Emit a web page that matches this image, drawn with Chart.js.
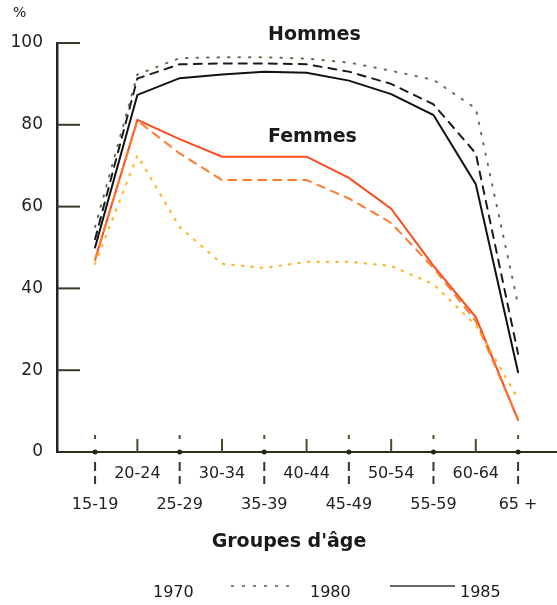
<!DOCTYPE html>
<html>
<head>
<meta charset="utf-8">
<script src="https://cdn.jsdelivr.net/npm/chart.js@4/dist/chart.umd.min.js"></script>
<style>
html,body{margin:0;padding:0;background:#fff;}
#wrap{width:557px;height:605px;position:relative;}
</style>
</head>
<body>
<div id="wrap"><canvas id="c" width="557" height="605"></canvas></div>
<script>
const categories = ['15-19','20-24','25-29','30-34','35-39','40-44','45-49','50-54','55-59','60-64','65 +'];
const hommes1970 = [55, 92.3, 96.3, 96.5, 96.5, 96.2, 95.2, 93.2, 91, 84, 36];
const hommes1980 = [52, 91.3, 94.8, 95, 95, 94.8, 93, 90, 85, 73, 24];
const hommes1985 = [50, 87.3, 91.4, 92.3, 93, 92.7, 90.8, 87.5, 82.4, 65.5, 19.5];
const femmes1970 = [46, 72.5, 55, 46, 45, 46.5, 46.5, 45.5, 41, 31, 13];
const femmes1980 = [47, 81, 73, 66.5, 66.5, 66.5, 62, 56, 45, 32, 8];
const femmes1985 = [47, 81.2, 76.5, 72.2, 72.2, 72.2, 67, 59.5, 45.5, 33, 7.8];
const yTicks = [0, 20, 40, 60, 80, 100];
const years = ['1970', '1980', '1985'];
const seriesNames = ['Hommes', 'Femmes'];
const axisTitle = "Groupes d'âge";

const FONT = "'DejaVu Sans', sans-serif";
const pts = arr => arr.map((v, i) => ({x: i, y: v}));

function ds(label, data, color, dash, width) {
  return {label, data: pts(data), borderColor: color, borderWidth: width, borderDash: dash,
          pointRadius: 0, fill: false, tension: 0, borderCapStyle: 'round'};
}

const decor = {
  id: 'decor',
  afterDraw(chart) {
    const ctx = chart.ctx, xs = chart.scales.x, ys = chart.scales.y, a = chart.chartArea;
    ctx.save();
    // inward y ticks
    ctx.strokeStyle = '#3a3a2a'; ctx.lineWidth = 2;
    yTicks.forEach(v => {
      if (v === 0) return;
      const y = ys.getPixelForValue(v);
      ctx.beginPath(); ctx.moveTo(a.left, y); ctx.lineTo(a.left + 23, y); ctx.stroke();
    });
    // x-axis marks
    const base = ys.getPixelForValue(0);
    categories.forEach((c, i) => {
      const x = xs.getPixelForValue(i);
      if (i % 2 === 1) {
        ctx.strokeStyle = '#4a4a2a'; ctx.lineWidth = 2; ctx.setLineDash([]);
        ctx.beginPath(); ctx.moveTo(x, base); ctx.lineTo(x, base - 13); ctx.stroke();
      } else {
        ctx.fillStyle = '#222';
        ctx.beginPath(); ctx.arc(x, base, 2.5, 0, Math.PI * 2); ctx.fill();
        ctx.strokeStyle = '#5a4a2a'; ctx.lineWidth = 2; ctx.setLineDash([]);
        ctx.beginPath(); ctx.moveTo(x, base - 17); ctx.lineTo(x, base - 13); ctx.stroke();
        ctx.strokeStyle = '#333';
        ctx.setLineDash([9, 5]);
        ctx.beginPath(); ctx.moveTo(x, base + 10); ctx.lineTo(x, base + 32); ctx.stroke();
        ctx.setLineDash([]);
      }
    });
    // texts
    ctx.fillStyle = '#1a1a1a';
    ctx.textBaseline = 'middle';
    ctx.textAlign = 'left';
    ctx.font = '14px ' + FONT;
    ctx.fillText('%', 13, 13);
    ctx.font = 'bold 19px ' + FONT;
    ctx.fillText(seriesNames[0], 268, 35);
    ctx.fillText(seriesNames[1], 268, 137);
    ctx.textAlign = 'center';
    ctx.font = 'bold 19px ' + FONT;
    ctx.fillText(axisTitle, 289, 542);
    // legend
    ctx.font = '16px ' + FONT;
    ctx.textAlign = 'left';
    const ly = 593;
    ctx.fillText(years[0], 153, ly);
    ctx.strokeStyle = '#555'; ctx.lineWidth = 1.5;
    ctx.setLineDash([3, 8]);
    ctx.beginPath(); ctx.moveTo(231, ly - 7); ctx.lineTo(294, ly - 7); ctx.stroke();
    ctx.setLineDash([]);
    ctx.fillText(years[1], 310, ly);
    ctx.strokeStyle = '#333'; ctx.lineWidth = 1.5;
    ctx.beginPath(); ctx.moveTo(390, ly - 7); ctx.lineTo(455, ly - 7); ctx.stroke();
    ctx.fillText(years[2], 460, ly);
    ctx.restore();
  }
};

new Chart(document.getElementById('c'), {
  type: 'line',
  data: {
    datasets: [
      ds('Femmes 1970', femmes1970, '#ffb62e', [1.5, 8], 2.2),
      ds('Femmes 1980', femmes1980, '#ff7a2a', [8, 7], 2),
      ds('Femmes 1985', femmes1985, '#ff4a1c', [], 2),
      ds('Hommes 1970', hommes1970, '#6a6a50', [1.5, 9], 2),
      ds('Hommes 1980', hommes1980, '#1a1a1a', [8, 7], 2),
      ds('Hommes 1985', hommes1985, '#111111', [], 2)
    ]
  },
  options: {
    responsive: false,
    devicePixelRatio: 1,
    animation: false,
    layout: {padding: {top: 43, right: 0, left: 0, bottom: 0}},
    plugins: {legend: {display: false}, tooltip: {enabled: false}},
    scales: {
      x: {
        type: 'linear', min: -0.9, max: 10.92,
        afterBuildTicks: s => { s.ticks = categories.map((_, i) => ({value: i})); },
        afterFit: s => { s.height = 153; },
        grid: {display: true, drawOnChartArea: false, drawTicks: false},
        border: {display: true, color: '#2e2e1e', width: 2},
        ticks: {
          autoSkip: false, maxRotation: 0, minRotation: 0, padding: 6.5,
          color: '#222',
          font: {family: FONT, size: 16, lineHeight: 31 / 16},
          callback: v => {
            const i = Math.round(v);
            if (i < 0 || i >= categories.length) return '';
            return i % 2 === 1 ? [categories[i], ''] : ['', categories[i]];
          }
        }
      },
      y: {
        min: 0, max: 100,
        afterBuildTicks: s => { s.ticks = yTicks.map(v => ({value: v})); },
        afterFit: s => { s.width = 57; },
        grid: {display: true, drawOnChartArea: false, drawTicks: false},
        border: {display: true, color: '#222', width: 2.5},
        ticks: {padding: 14, color: '#222', font: {family: FONT, size: 17}}
      }
    }
  },
  plugins: [decor]
});
</script>
</body>
</html>
